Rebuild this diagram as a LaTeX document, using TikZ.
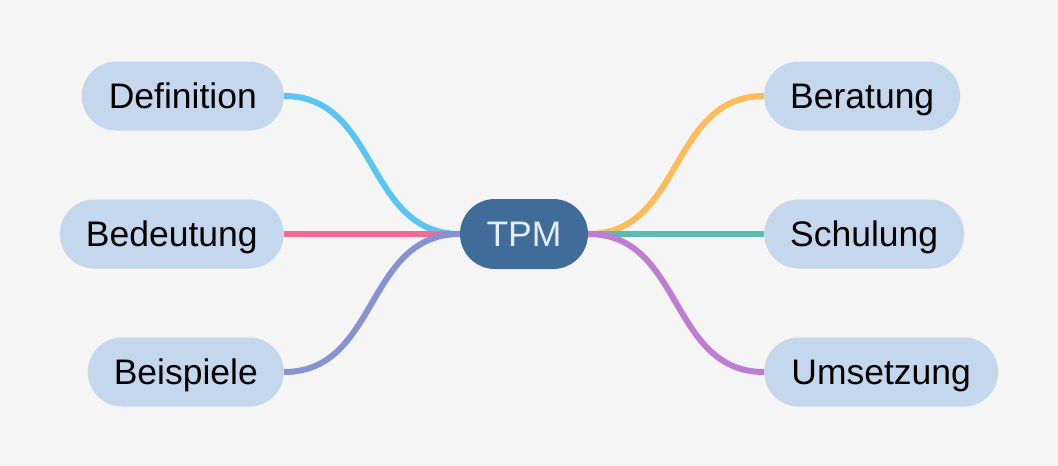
\documentclass[tikz,border=0pt]{standalone}
\usepackage{fontspec}
\setmainfont{Liberation Sans}
\usetikzlibrary{backgrounds}
\definecolor{BackClr}{HTML}{F5F5F5}
\definecolor{TopicClr}{HTML}{C5D7EC}
\definecolor{RootClr}{HTML}{3F6C99}
\definecolor{RootTxt}{HTML}{E6EDF5}
\definecolor{DefClr}{HTML}{5BC5F2}
\definecolor{BedClr}{HTML}{EE6B94}
\definecolor{BspClr}{HTML}{8793D1}
\definecolor{BerClr}{HTML}{FEBB5A}
\definecolor{SchClr}{HTML}{5BBBB1}
\definecolor{UmsClr}{HTML}{BE7DD1}

\tikzset{
  topic/.style={fill=TopicClr,rounded corners=34.5pt,minimum height=69pt,
    inner xsep=0pt,text height=25.4pt,text depth=0pt,
    font=\fontsize{35.5}{42}\selectfont,text=black},
  root/.style={topic,fill=RootClr,text=RootTxt,minimum height=70pt,rounded corners=35pt},
  branch/.style={line width=6pt},
}

\begin{document}
\begin{tikzpicture}[x=1pt,y=-1pt]
\useasboundingbox (0,0) rectangle (1058,466);

\node[root,minimum width=128pt] (tpm) at (524,234) {TPM};

\node[topic,anchor=east,minimum width=202pt] (def) at (284,96) {Definition};
\node[topic,anchor=east,minimum width=224pt] (bed) at (284,234) {Bedeutung};
\node[topic,anchor=east,minimum width=196pt] (bsp) at (284,372) {Beispiele};

\node[topic,anchor=west,minimum width=196pt] (ber) at (764,96) {Beratung};
\node[topic,anchor=west,minimum width=200pt] (sch) at (764,234) {Schulung};
\node[topic,anchor=west,minimum width=234pt] (ums) at (764,372) {Umsetzung};

\begin{scope}[on background layer]
\fill[BackClr] (0,0) rectangle (1058,466);

% left side
\draw[branch,DefClr] (def.east) .. controls +(95,0) and +(-95,0) .. (tpm.west);
\draw[branch,BedClr] (bed.east) -- (tpm.west);
\draw[branch,BspClr] (bsp.east) .. controls +(95,0) and +(-95,0) .. (tpm.west);

% right side
\draw[branch,BerClr] (tpm.east) .. controls +(95,0) and +(-95,0) .. (ber.west);
\draw[branch,SchClr] (tpm.east) -- (sch.west);
\draw[branch,UmsClr] (tpm.east) .. controls +(95,0) and +(-95,0) .. (ums.west);
\end{scope}

\end{tikzpicture}
\end{document}
